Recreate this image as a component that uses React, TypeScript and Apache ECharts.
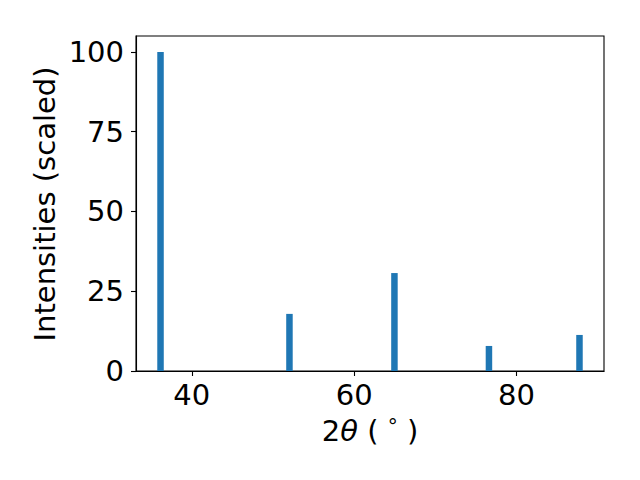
import React, { useEffect, useRef } from "react";
import * as echarts from "echarts";

const peakPositions = [36.15, 52.03, 64.96, 76.6, 87.75];
const peakIntensities = [100, 17.9, 30.7, 7.85, 11.3];
const xTicks = [40, 60, 80];
const yTicks = [0, 25, 50, 75, 100];

export default function App() {
  const ref = useRef<HTMLDivElement>(null);
  useEffect(() => {
    if (!ref.current) return;
    const chart = echarts.init(ref.current, undefined, { renderer: "svg" });
    const font = "DejaVu Sans";
    const fs = 29;
    chart.setOption({
      animation: false,
      backgroundColor: "#fff",
      grid: {
        left: 136,
        top: 36,
        right: 36,
        bottom: 109,
        show: true,
        borderColor: "#000",
        borderWidth: 1.1,
        backgroundColor: "transparent",
      },
      xAxis: {
        type: "value",
        min: 33.13,
        max: 90.77,
        splitLine: { show: false },
        axisLine: { show: true, onZero: false, lineStyle: { color: "#000", width: 1.1 } },
        axisTick: { show: true, customValues: xTicks, length: 5, lineStyle: { color: "#000", width: 1.1 } },
        axisLabel: { customValues: xTicks, color: "#000", fontSize: fs, fontFamily: font, margin: 9 },
      },
      yAxis: {
        type: "value",
        min: 0,
        max: 105,
        splitLine: { show: false },
        axisLine: { show: true, lineStyle: { color: "#000", width: 1.1 } },
        axisTick: { show: true, customValues: yTicks, length: 5, lineStyle: { color: "#000", width: 1.1 } },
        axisLabel: { customValues: yTicks, color: "#000", fontSize: fs, fontFamily: font, margin: 12 },
      },
      series: [
        {
          type: "bar",
          data: peakPositions.map((x, i) => [x, peakIntensities[i]]),
          barWidth: 6.5,
          itemStyle: { color: "#1f77b4" },
        },
      ],
      graphic: [
        {
          type: "text",
          x: 45,
          y: 204,
          rotation: Math.PI / 2,
          style: {
            text: "Intensities (scaled)",
            fontSize: fs,
            fontFamily: font,
            fill: "#000",
            align: "center",
            verticalAlign: "middle",
          },
        },
        {
          type: "text",
          x: 370,
          y: 431,
          style: {
            text: "{n|2}{i|θ}{n| ( }{s|°}{n| )}",
            align: "center",
            verticalAlign: "middle",
            fill: "#000",
            rich: {
              n: { fontSize: fs, fontFamily: font, fill: "#000" },
              i: { fontSize: fs, fontFamily: font, fontStyle: "italic", fill: "#000" },
              s: { fontSize: 20, fontFamily: font, fill: "#000", verticalAlign: "top", padding: [0, 0, 10, 0] },
            },
          },
        },
      ],
    });
    return () => chart.dispose();
  }, []);
  return <div ref={ref} style={{ width: 640, height: 480, margin: -8 }} />;
}
